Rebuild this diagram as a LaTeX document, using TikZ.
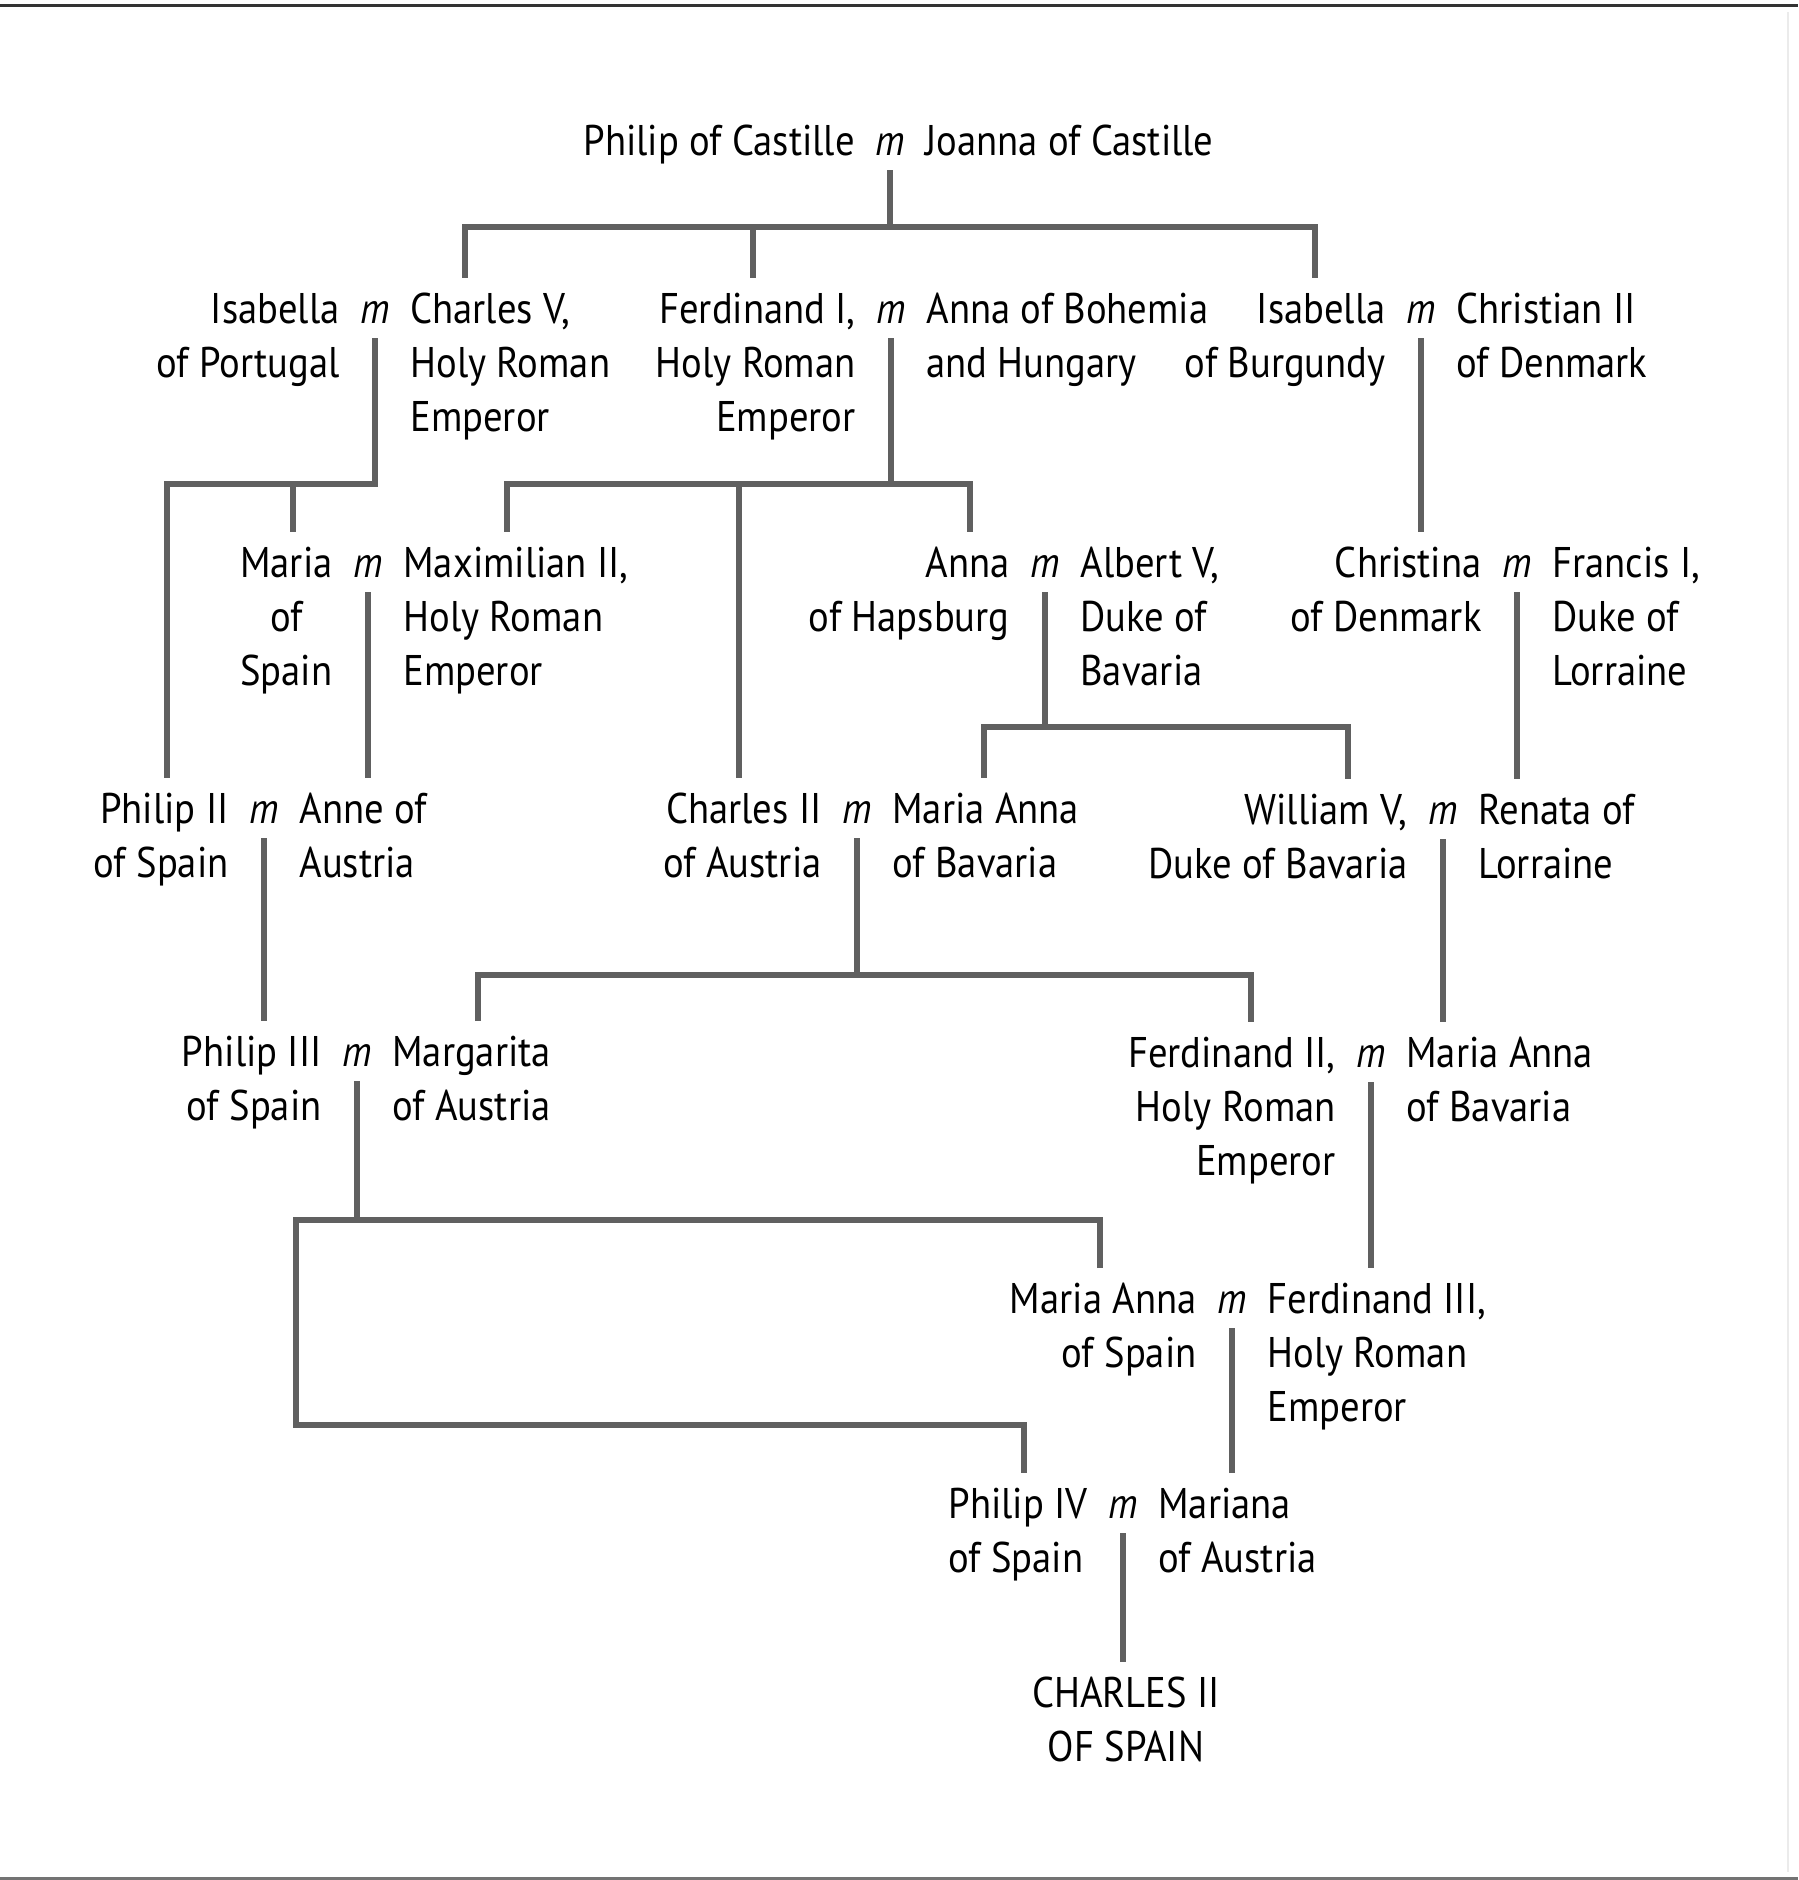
\documentclass[tikz,border=0pt]{standalone}
\usepackage{fontspec}
\setmainfont[FakeStretch=0.9]{PT Sans}
\usepackage{tikz}
\definecolor{tiegray}{HTML}{606060}
\newcommand{\mar}{\textit{m}}

\begin{document}
\begin{tikzpicture}[x=0.01cm,y=-0.01cm,
   every node/.style={font=\fontsize{12.2}{15.37}\selectfont,inner xsep=0pt,inner ysep=2pt},
   mar/.style={anchor=north,minimum width=0.68cm,text height=10.76pt,text depth=2pt},
   lhs/.style={anchor=north east,align=right},
   rhs/.style={anchor=north west,align=left},
   tie/.style={draw=tiegray,line width=0.065cm}]
   \useasboundingbox (0,0) rectangle (1798,1880);
   \draw [line width=0.03cm,black!80] (0,5.5) -- (1798,5.5) ;
   \draw [line width=0.03cm,black!55] (0,1878.5) -- (1798,1878.5) ;
   \draw [line width=0.02cm,black!8] (1788,12) -- (1788,1872) ;

   % the m nodes sit 45 above the baseline of the first line
   \node[mar] (m0) at (890,110) {\mar};
   \node[lhs] (l0) at (m0.north west) {\strut Philip of Castille};
   \node[rhs] (r0) at (m0.north east) {\strut Joanna of Castille};

   \node[mar] (m1a) at (375,278) {\mar};
   \node[lhs] (l1a) at (m1a.north west) {\strut Isabella\\of Portugal};
   \node[rhs] (r1a) at (m1a.north east) {\strut Charles V,\\Holy Roman\\Emperor};
   \node[mar] (m1b) at (891,278) {\mar};
   \node[lhs] (l1b) at (m1b.north west) {\strut Ferdinand I,\\Holy Roman\\Emperor};
   \node[rhs] (r1b) at (m1b.north east) {\strut Anna of Bohemia\\and Hungary};
   \node[mar] (m1c) at (1421,278) {\mar};
   \node[lhs] (l1c) at (m1c.north west) {\strut Isabella\\of Burgundy};
   \node[rhs] (r1c) at (m1c.north east) {\strut Christian II\\of Denmark};

   \node[mar] (m2a) at (368,532) {\mar};
   \node[lhs,align=center] (l2a) at (m2a.north west) {\strut Maria\\of\\Spain};
   \node[rhs] (r2a) at (m2a.north east) {\strut Maximilian II,\\Holy Roman\\Emperor};
   \node[mar] (m2b) at (1045,532) {\mar};
   \node[lhs] (l2b) at (m2b.north west) {\strut Anna\\of Hapsburg};
   \node[rhs] (r2b) at (m2b.north east) {\strut Albert V,\\Duke of\\Bavaria};
   \node[mar] (m2c) at (1517,532) {\mar};
   \node[lhs] (l2c) at (m2c.north west) {\strut Christina\\of Denmark};
   \node[rhs] (r2c) at (m2c.north east) {\strut Francis I,\\Duke of\\Lorraine};

   \node[mar] (m3a) at (264,778) {\mar};
   \node[lhs] (l3a) at (m3a.north west) {\strut Philip II\\of Spain};
   \node[rhs] (r3a) at (m3a.north east) {\strut Anne of\\Austria};
   \node[mar] (m3b) at (857,778) {\mar};
   \node[lhs] (l3b) at (m3b.north west) {\strut Charles II\\of Austria};
   \node[rhs] (r3b) at (m3b.north east) {\strut Maria Anna\\of Bavaria};
   \node[mar] (m3c) at (1443,779) {\mar};
   \node[lhs] (l3c) at (m3c.north west) {\strut William V,\\Duke of Bavaria};
   \node[rhs] (r3c) at (m3c.north east) {\strut Renata of\\Lorraine};

   \node[mar] (m4a) at (357,1021) {\mar};
   \node[lhs] (l4a) at (m4a.north west) {\strut Philip III\\of Spain};
   \node[rhs] (r4a) at (m4a.north east) {\strut Margarita\\of Austria};
   \node[mar] (m4b) at (1371,1022) {\mar};
   \node[lhs] (l4b) at (m4b.north west) {\strut Ferdinand II,\\Holy Roman\\Emperor};
   \node[rhs] (r4b) at (m4b.north east) {\strut Maria Anna\\of Bavaria};

   \node[mar] (m5a) at (1232,1268) {\mar};
   \node[lhs] (l5a) at (m5a.north west) {\strut Maria Anna\\of Spain};
   \node[rhs] (r5a) at (m5a.north east) {\strut Ferdinand III,\\Holy Roman\\Emperor};

   \node[mar] (m6a) at (1123,1473) {\mar};
   \node[lhs,align=left] (l6a) at (m6a.north west) {\strut Philip IV\\of Spain};
   \node[rhs] (r6a) at (m6a.north east) {\strut Mariana\\of Austria};

   \node[anchor=north,align=center] (c7) at (1126,1662) {\strut CHARLES II\\OF SPAIN};

   \coordinate (j0a) at (465,227);
   \coordinate (j0b) at (753,227);
   \coordinate (j0c) at (1315,227);
   \draw [tie] (m0.south) -- (m0.south |- j0a) ;
   \draw [tie] (j0a |- r1a.north) -- (j0a) -- (j0c) -- (j0c |- l1c.north) ;
   \draw [tie] (j0b) -- (j0b |- l1b.north) ;

   \coordinate (j1a) at (167,484);
   \coordinate (j1b) at (293,484);
   \draw [tie] (m1a.south) -- (m1a.south |- j1a) -- (j1a) -- (j1a |- l3a.north) ;
   \draw [tie] (j1b) -- (j1b |- l2a.north) ;
   \coordinate (j1c) at (507,484);
   \coordinate (j1d) at (739,484);
   \coordinate (j1e) at (970,484);
   \draw [tie] (m1b.south) -- (m1b.south |- j1c) ;
   \draw [tie] (j1c |- r2a.north) -- (j1c) -- (j1e) -- (j1e |- l2b.north) ;
   \draw [tie] (j1d) -- (j1d |- l3b.north) ;
   \draw [tie] (m1c.south) -- (m1c.south |- l2c.north) ;

   \draw [tie] (m2a.south) -- (m2a.south |- r3a.north) ;
   \coordinate (j2a) at (984,727);
   \coordinate (j2b) at (1348,727);
   \draw [tie] (m2b.south) -- (m2b.south |- j2a) ;
   \draw [tie] (j2a |- r3b.north) -- (j2a) -- (j2b) -- (j2b |- l3c.north) ;
   \draw [tie] (m2c.south) -- (m2c.south |- r3c.north) ;

   \draw [tie] (m3a.south) -- (m3a.south |- l4a.north) ;
   \coordinate (j3a) at (478,975);
   \coordinate (j3b) at (1251,975);
   \draw [tie] (m3b.south) -- (m3b.south |- j3a) ;
   \draw [tie] (j3a |- r4a.north) -- (j3a) -- (j3b) -- (j3b |- l4b.north) ;
   \draw [tie] (m3c.south) -- (m3c.south |- r4b.north) ;

   \coordinate (j4a) at (296,1220);
   \coordinate (j4b) at (1100,1220);
   \coordinate (j4c) at (296,1425);
   \coordinate (j4d) at (1024,1425);
   \draw [tie] (m4a.south) -- (m4a.south |- j4a) ;
   \draw [tie] (j4b |- l5a.north) -- (j4b) -- (j4a) -- (j4c) -- (j4d) -- (j4d |- l6a.north) ;
   \draw [tie] (m4b.south) -- (m4b.south |- r5a.north) ;

   \draw [tie] (m5a.south) -- (m5a.south |- r6a.north) ;
   \draw [tie] (m6a.south) -- (m6a.south |- c7.north) ;
\end{tikzpicture}
\end{document}
